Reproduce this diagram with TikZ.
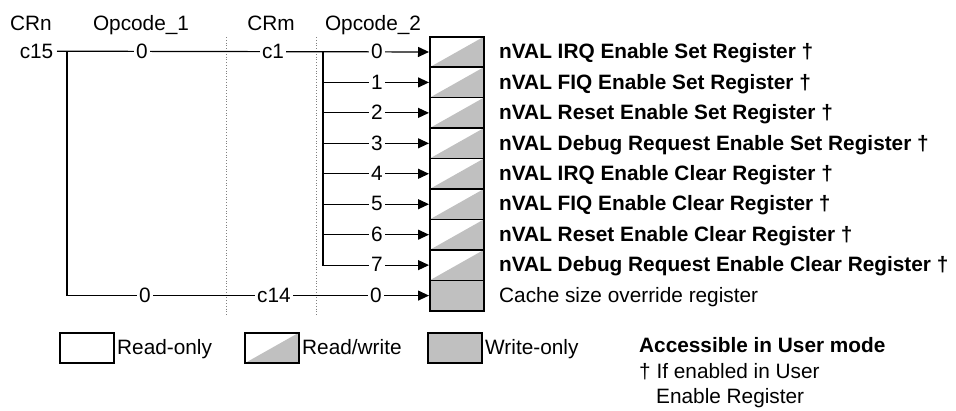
\documentclass[tikz,border=0pt]{standalone}
\usepackage{fontspec}
\setmainfont{Liberation Sans}
\usetikzlibrary{arrows.meta}
\definecolor{regfill}{HTML}{C0C0C0}
\begin{document}
\begin{tikzpicture}[x=1pt,y=-1pt,
  txt/.style={font=\fontsize{20.8}{25}\selectfont, inner sep=0pt, text height=14.9pt, text depth=0pt},
  btxt/.style={txt, font=\fontsize{20.8}{25}\selectfont\bfseries},
  lbl/.style={txt, fill=white, inner xsep=2pt},
  conn/.style={line width=1.2pt},
  arr/.style={conn, -{Triangle[length=11pt,width=10pt]}},
  regbox/.style={draw, line width=1.5pt, minimum width=54pt, minimum height=30.45pt, inner sep=0pt, anchor=north west},
  rw/.style={regbox, path picture={\fill[regfill] (path picture bounding box.south west) -- (path picture bounding box.south east) -- (path picture bounding box.north east) -- cycle;}},
  wo/.style={regbox, fill=regfill},
  ro/.style={regbox},
  sep/.style={draw=gray, dotted, line width=0.8pt}]
\useasboundingbox (0,0) rectangle (956,410);

% headers
\node[txt, anchor=base] (hcrn) at (31,30) {CRn};
\node[txt, anchor=base] (hop1) at (141,30) {Opcode\_1};
\node[txt, anchor=base] (hcrm) at (271,30) {CRm};
\node[txt, anchor=base] (hop2) at (373,30) {Opcode\_2};

% separators
\coordinate (s1t) at (226,37); \coordinate (s1b) at (226,315);
\coordinate (s2t) at (316,37); \coordinate (s2b) at (316,315);
\draw[sep] (s1t) -- (s1b);
\draw[sep] (s2t) -- (s2b);

% register boxes and names
\foreach \i/\t in {0/nVAL IRQ Enable Set Register \textdagger,
                   1/nVAL FIQ Enable Set Register \textdagger,
                   2/nVAL Reset Enable Set Register \textdagger,
                   3/nVAL Debug Request Enable Set Register \textdagger,
                   4/nVAL IRQ Enable Clear Register \textdagger,
                   5/nVAL FIQ Enable Clear Register \textdagger,
                   6/nVAL Reset Enable Clear Register \textdagger,
                   7/nVAL Debug Request Enable Clear Register \textdagger}{
  \pgfmathsetmacro\tp{36+30.45*\i}
  \pgfmathsetmacro\cy{\tp+15.225}
  \node[rw] (r\i) at (429,\tp) {};
  \node[btxt, anchor=west] (n\i) at (499,\cy) {\t};
}
\node[wo] (r8) at (429,279.6) {};
\node[txt, anchor=west] (n8) at (499,294.8) {Cache size override register};

% CRn c15
\node[txt, anchor=east] (c15) at (53.5,51.2) {c15};
\coordinate (j0) at (67,51.2);
\coordinate (j1) at (323,51.2);
\draw[arr] ([xshift=3.5pt]c15.east) -- (r0.west);
\draw[arr] (j0) |- (r8.west);
\foreach \i in {1,...,7}{
  \draw[arr] (j1) |- (r\i.west);
}

% labels on connectors
\node[lbl] (o1a) at (142,51.2) {0};
\node[lbl] (crm1) at (273,51.2) {c1};
\foreach \i in {0,...,7}{
  \pgfmathsetmacro\cy{51.2+30.45*\i}
  \node[lbl] (op\i) at (377,\cy) {\i};
}
\node[lbl] (o1b) at (145,294.8) {0};
\node[lbl] (crm14) at (274,294.8) {c14};
\node[lbl] (op8) at (376,294.8) {0};

% legend
\node[ro] (lg1) at (59,332) {};
\node[txt, anchor=west] (lt1) at (117,347.2) {Read-only};
\node[rw] (lg2) at (244,332) {};
\node[txt, anchor=west] (lt2) at (302,347.2) {Read/write};
\node[wo] (lg3) at (427,332) {};
\node[txt, anchor=west] (lt3) at (485,347.2) {Write-only};

\node[btxt, anchor=west] (acc) at (639,345) {Accessible in User mode};
\node[txt, anchor=west] (f1) at (639,371) {\textdagger{} If enabled in User};
\node[txt, anchor=west] (f2) at (656,396) {Enable Register};
\end{tikzpicture}
\end{document}
